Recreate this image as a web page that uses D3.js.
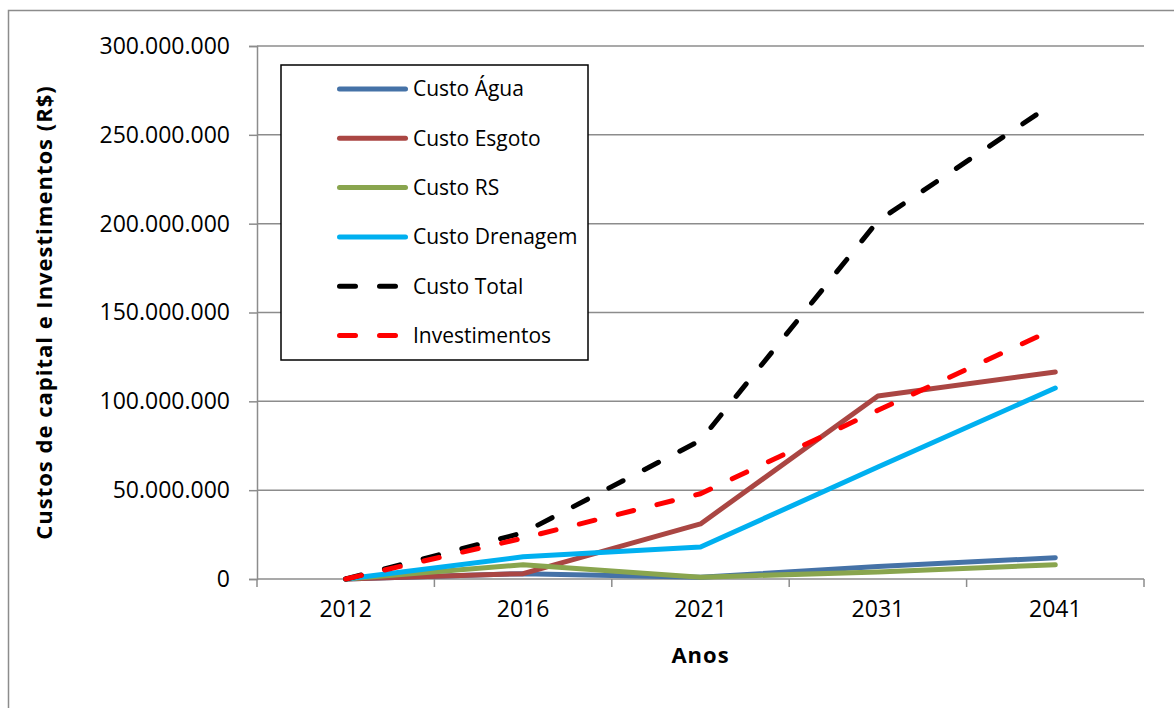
<!DOCTYPE html>
<html><head><meta charset="utf-8">
<script src="https://cdn.jsdelivr.net/npm/d3@7"></script>
<style>body{margin:0;background:#fff;} svg{display:block;font-family:"Open Sans",sans-serif;}</style>
</head><body>
<svg id="c" width="1174" height="708"></svg>
<script>
const categories = ["2012","2016","2021","2031","2041"];
const custoAgua = [0, 3000000, 1000000, 7000000, 12000000];
const custoEsgoto = [0, 3000000, 31000000, 103000000, 116500000];
const custoRS = [0, 8000000, 1000000, 4000000, 8000000];
const custoDrenagem = [0, 12500000, 18000000, 63000000, 107500000];
const custoTotal = [0, 26000000, 78000000, 201500000, 268500000];
const investimentos = [0, 23000000, 48000000, 95000000, 141000000];
const yTicks = [0, 50000000, 100000000, 150000000, 200000000, 250000000, 300000000];
const seriesNames = ["Custo Água","Custo Esgoto","Custo RS","Custo Drenagem","Custo Total","Investimentos"];

const series = [
  {name: seriesNames[0], values: custoAgua, color: "#4572A7", dash: null},
  {name: seriesNames[1], values: custoEsgoto, color: "#AA4643", dash: null},
  {name: seriesNames[2], values: custoRS, color: "#89A54E", dash: null},
  {name: seriesNames[3], values: custoDrenagem, color: "#00B0F0", dash: null},
  {name: seriesNames[4], values: custoTotal, color: "#000000", dash: "16,24"},
  {name: seriesNames[5], values: investimentos, color: "#FF0000", dash: "16,24"}
];

const svg = d3.select("#c");
const L = 257, R = 1144, T = 46, B = 579;
const gridColor = "#8c8c8c";

// outer frame
svg.append("rect").attr("x", 8.5).attr("y", 10.5).attr("width", 1200).attr("height", 800)
  .attr("fill", "none").attr("stroke", gridColor).attr("stroke-width", 1.5);

const x = d3.scaleBand().domain(categories).range([L, R]).padding(0);
const y = d3.scaleLinear().domain([0, 300000000]).range([B, T]);
const fmt = v => d3.format(",")(v).replace(/,/g, ".");

// gridlines
svg.append("g").selectAll("line").data(yTicks.filter(d => d > 0)).join("line")
  .attr("x1", L).attr("x2", R).attr("y1", d => y(d)).attr("y2", d => y(d))
  .attr("stroke", gridColor).attr("stroke-width", 1.5);

// y axis
const yAxis = svg.append("g").attr("transform", `translate(${L},0)`)
  .call(d3.axisLeft(y).tickValues(yTicks).tickFormat(fmt).tickSize(8).tickPadding(19));
yAxis.select(".domain").attr("stroke", gridColor).attr("stroke-width", 1.5);
yAxis.selectAll(".tick line").attr("stroke", gridColor).attr("stroke-width", 1.5);
yAxis.selectAll(".tick text").attr("font-size", 23).attr("fill", "#000").attr("font-family", "Open Sans");

// x axis
const xAxis = svg.append("g").attr("transform", `translate(0,${B})`)
  .call(d3.axisBottom(x).tickSize(0).tickPadding(22));
xAxis.select(".domain").remove();
xAxis.selectAll(".tick text").attr("font-size", 23).attr("fill", "#000").attr("font-family", "Open Sans");
svg.append("line").attr("x1", L).attr("x2", R).attr("y1", B).attr("y2", B)
  .attr("stroke", gridColor).attr("stroke-width", 1.5);
const bounds = categories.map(c => x(c)).concat([x(categories[categories.length-1]) + x.bandwidth()]);
svg.append("g").selectAll("line").data(bounds).join("line")
  .attr("x1", d => d).attr("x2", d => d).attr("y1", B).attr("y2", B + 8)
  .attr("stroke", gridColor).attr("stroke-width", 1.5);

// lines
const line = d3.line().x((d, i) => x(categories[i]) + x.bandwidth() / 2).y(d => y(d));
series.forEach(s => {
  svg.append("path").datum(s.values).attr("d", line)
    .attr("fill", "none").attr("stroke", s.color).attr("stroke-width", 5)
    .attr("stroke-linecap", "round").attr("stroke-linejoin", "round")
    .attr("stroke-dasharray", s.dash);
});

// legend
const lg = svg.append("g");
lg.append("rect").attr("x", 281).attr("y", 65).attr("width", 307).attr("height", 295)
  .attr("fill", "#fff").attr("stroke", "#000").attr("stroke-width", 1.5);
series.forEach((s, i) => {
  const yy = 89 + i * 49.3;
  lg.append("line").attr("x1", 339.5).attr("x2", 405.5).attr("y1", yy).attr("y2", yy)
    .attr("stroke", s.color).attr("stroke-width", 5).attr("stroke-linecap", "round")
    .attr("stroke-dasharray", s.dash ? "16,24" : null);
  lg.append("text").attr("x", 413).attr("y", yy).attr("dy", "0.35em")
    .attr("font-size", 21).attr("fill", "#000").text(s.name);
});

// axis titles
svg.append("text").attr("transform", `translate(52,${(T + B) / 2}) rotate(-90)`)
  .attr("text-anchor", "middle").attr("font-size", 22).attr("font-weight", "bold")
  .attr("letter-spacing", 1).text("Custos de capital e Investimentos (R$)");
svg.append("text").attr("x", (L + R) / 2).attr("y", 663).attr("text-anchor", "middle")
  .attr("font-size", 22).attr("font-weight", "bold").attr("letter-spacing", 1).text("Anos");
</script>
</body></html>
